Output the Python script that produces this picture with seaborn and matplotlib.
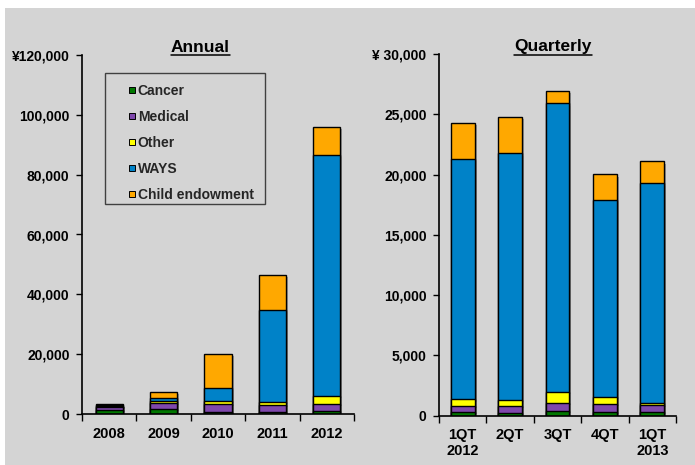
import matplotlib
matplotlib.use("Agg")
import matplotlib.pyplot as plt
import matplotlib.patheffects as pe
from matplotlib.patches import Rectangle
from matplotlib.lines import Line2D
from matplotlib.ticker import FuncFormatter, FixedLocator
import numpy as np
import pandas as pd
import seaborn as sns

# Annual premium income by product (yen, thousands)
years = ["2008", "2009", "2010", "2011", "2012"]
cancer_a = [1300, 1550, 800, 800, 1000]
medical_a = [1150, 2150, 2650, 2200, 2450]
other_a = [250, 750, 770, 1000, 2680]
ways_a = [300, 750, 4480, 30800, 80570]
child_a = [200, 2170, 11300, 11600, 9300]

# Quarterly premium income by product
quarters = ["1QT\n2012", "2QT", "3QT", "4QT", "1QT\n2013"]
cancer_q = [300, 250, 360, 330, 300]
medical_q = [530, 530, 670, 610, 560]
other_q = [520, 520, 960, 580, 190]
ways_q = [19930, 20450, 23910, 16360, 18210]
child_q = [3020, 3020, 1000, 2130, 1830]

series_names = ["Cancer", "Medical", "Other", "WAYS", "Child endowment"]
colors = ["#007800", "#7F48AC", "#FFFF00", "#0082C8", "#FFA800"]

BG = "#D4D4D4"
W, H = 695, 465

sns.set_theme(style="white")
plt.rcParams["font.family"] = ["Liberation Sans", "DejaVu Sans"]
plt.rcParams["font.weight"] = "bold"

fig = plt.figure(figsize=(W / 100, H / 100), dpi=100, facecolor="white")
fig.patches.append(Rectangle((5 / W, 0), 1 - 5 / W, 1 - 8 / H,
                             transform=fig.transFigure, facecolor=BG,
                             edgecolor="none", zorder=-10))


def fx(px):
    return px / W


def fy(py):
    return 1 - py / H


ax1 = fig.add_axes([fx(82), fy(414), fx(354) - fx(82), fy(55) - fy(414)])
ax2 = fig.add_axes([fx(439), fy(415.7), fx(676) - fx(439), fy(54) - fy(415.7)])

shadow = [pe.SimplePatchShadow(offset=(1.5, -1.5), shadow_rgbFace="#707070", alpha=0.6),
          pe.Normal()]


def stacked(ax, cats, layers):
    df = pd.DataFrame(np.array(layers).T, columns=series_names)
    cum = df[series_names].cumsum(axis=1)
    # draw the tallest cumulative layer first so lower layers sit on top
    for name, col in reversed(list(zip(series_names, colors))):
        sns.barplot(x=cats, y=cum[name].values, ax=ax, color=col, width=0.5,
                    edgecolor="black", linewidth=1.0, saturation=1.0)
    for p in ax.patches:
        p.set_path_effects(shadow)


stacked(ax1, years, [cancer_a, medical_a, other_a, ways_a, child_a])
stacked(ax2, quarters, [cancer_q, medical_q, other_q, ways_q, child_q])


def style(ax, ymax, step, top_label):
    ax.set_facecolor("none")
    ax.set_xlim(-0.5, 4.5)
    ax.set_ylim(0, ymax)
    ticks = np.arange(0, ymax + 1, step)
    ax.yaxis.set_major_locator(FixedLocator(ticks))
    ax.yaxis.set_major_formatter(FuncFormatter(
        lambda v, p: top_label if abs(v - ymax) < 1 else f"{int(v):,}"))
    for s in ["top", "right"]:
        ax.spines[s].set_visible(False)
    for s in ["left", "bottom"]:
        ax.spines[s].set_color("black")
        ax.spines[s].set_linewidth(1.2)
    ax.tick_params(axis="y", which="major", direction="out", length=4, width=1,
                   color="black", left=True, pad=5, labelsize=10, labelcolor="black")
    ax.tick_params(axis="x", which="major", length=0, pad=9, labelsize=10.5,
                   labelcolor="black")
    ax.xaxis.set_minor_locator(FixedLocator(np.arange(-0.5, 5, 1.0)))
    ax.tick_params(axis="x", which="minor", direction="out", length=5, width=1,
                   color="black", bottom=True)
    for lab in ax.get_xticklabels() + ax.get_yticklabels():
        lab.set_fontweight("bold")
    ax.set_xlabel("")
    ax.set_ylabel("")
    ax.grid(False)


style(ax1, 120000, 20000, "¥120,000")
style(ax2, 30000, 5000, "¥ 30,000")

# Underlined panel titles
for txt, cx in [("Annual", 200), ("Quarterly", 553)]:
    t = fig.text(fx(cx), fy(47), txt, ha="center", va="center",
                 fontsize=12.5, fontweight="bold", color="black")
    fig.canvas.draw()
    bb = t.get_window_extent()
    fig.add_artist(Line2D([bb.x0 / W, bb.x1 / W], [fy(55.5), fy(55.5)],
                          transform=fig.transFigure, color="black", lw=1.1))

# Legend box with series markers
fig.add_artist(Rectangle((fx(105), fy(204)), fx(265) - fx(105), fy(73) - fy(204),
                         transform=fig.transFigure, facecolor=BG,
                         edgecolor="#404040", linewidth=1.0, zorder=4))
handles = [Line2D([], [], marker="s", linestyle="none", markersize=5,
                  markerfacecolor=c, markeredgecolor="black", markeredgewidth=0.7)
           for c in colors]
leg = fig.legend(handles, series_names, loc="upper left",
                 bbox_to_anchor=(fx(121), fy(77)), bbox_transform=fig.transFigure,
                 frameon=False, handlelength=0.6, handletextpad=0.1,
                 labelspacing=0.87, borderpad=0, prop={"size": 10, "weight": "bold"})
leg.set_zorder(6)

fig.savefig("out.png", dpi=100, facecolor="white")
